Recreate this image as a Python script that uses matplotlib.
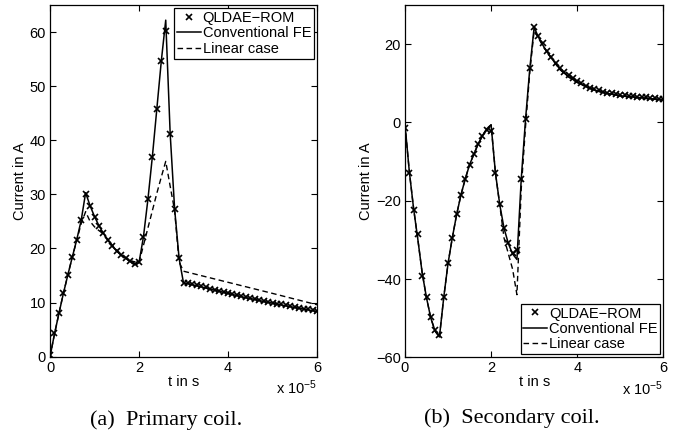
import numpy as np
import matplotlib
matplotlib.use("Agg")
import matplotlib.pyplot as plt

plt.rcParams['font.family'] = ['Liberation Sans', 'DejaVu Sans']
plt.rcParams['mathtext.fontset'] = 'custom'
plt.rcParams['mathtext.rm'] = 'Liberation Sans'
plt.rcParams['mathtext.it'] = 'Liberation Sans:italic'

# time in units of 1e-5 s
t = [0.0, 0.1, 0.2, 0.3, 0.4, 0.5, 0.6, 0.7, 0.8, 0.9,
     1.0, 1.1, 1.2, 1.3, 1.4, 1.5, 1.6, 1.7, 1.8, 1.9,
     2.0, 2.1, 2.2, 2.3, 2.4, 2.5, 2.6, 2.7, 2.8, 2.9,
     3.0, 3.1, 3.2, 3.3, 3.4, 3.5, 3.6, 3.7, 3.8, 3.9,
     4.0, 4.1, 4.2, 4.3, 4.4, 4.5, 4.6, 4.7, 4.8, 4.9,
     5.0, 5.1, 5.2, 5.3, 5.4, 5.5, 5.6, 5.7, 5.8, 5.9, 6.0]

# (a) primary coil
rom_p = [0.3, 4.3, 8.0, 11.7, 15.1, 18.4, 21.5, 25.3, 30.1, 27.9,
         25.9, 24.2, 22.8, 21.5, 20.5, 19.5, 18.8, 18.2, 17.6, 17.1,
         17.5, 22.2, 29.1, 37.0, 45.8, 54.6, 60.2, 41.2, 27.3, 18.2,
         13.7, 13.6, 13.4, 13.2, 13.0, 12.8, 12.6, 12.4, 12.2, 12.0,
         11.8, 11.6, 11.4, 11.2, 11.0, 10.85, 10.7, 10.5, 10.3, 10.15,
         10.0, 9.8, 9.65, 9.5, 9.35, 9.2, 9.05, 8.9, 8.75, 8.6, 8.45]
fe_p = [0.0, 4.2, 8.0, 11.7, 15.1, 18.4, 21.6, 25.2, 30.3, 27.9,
        25.9, 24.2, 22.8, 21.5, 20.5, 19.5, 18.8, 18.2, 17.6, 17.0,
        17.4, 22.2, 29.1, 37.0, 45.8, 54.6, 62.2, 41.2, 27.3, 18.2,
        13.6, 13.5, 13.3, 13.1, 12.9, 12.7, 12.5, 12.3, 12.1, 11.9,
        11.7, 11.5, 11.3, 11.1, 10.9, 10.75, 10.6, 10.4, 10.2, 10.05,
        9.9, 9.7, 9.55, 9.4, 9.25, 9.1, 8.95, 8.8, 8.65, 8.5, 8.35]
t_lin_p = [0.0, 0.1, 0.2, 0.3, 0.4, 0.5, 0.6, 0.7, 0.8, 0.9, 1.0, 1.1, 1.2,
           1.4, 1.6, 1.8, 2.0, 2.1, 2.2, 2.3, 2.4, 2.5, 2.6, 2.7, 2.8, 2.9,
           3.0, 4.0, 5.0, 6.0]
lin_p = [0.0, 4.2, 8.0, 11.7, 15.1, 18.4, 21.5, 24.6, 26.8, 25.0, 24.0, 23.3, 22.7,
         20.6, 18.9, 17.7, 17.4, 20.6, 23.8, 27.0, 30.2, 33.2, 36.1, 31.5, 27.0, 17.5,
         15.8, 13.75, 11.7, 9.6]

# (b) secondary coil
rom_s = [-1.5, -12.8, -22.4, -28.5, -39.1, -44.6, -49.8, -53.0, -54.4, -44.7,
         -36.0, -29.4, -23.5, -18.5, -14.4, -10.8, -8.1, -5.5, -3.4, -1.9,
         -2.2, -12.8, -20.9, -27.0, -30.9, -33.4, -32.6, -14.5, 0.8, 13.9,
         24.3, 22.2, 20.2, 18.3, 16.8, 15.2, 13.8, 12.9, 12.0, 11.3,
         10.6, 10.0, 9.4, 8.9, 8.5, 8.2, 7.9, 7.6, 7.4, 7.2,
         7.05, 6.9, 6.8, 6.7, 6.6, 6.5, 6.4, 6.3, 6.2, 6.1, 6.0]
fe_s = [-0.5, -12.5, -22.0, -30.0, -38.5, -44.8, -50.0, -53.3, -54.8, -44.7,
        -36.0, -29.4, -23.5, -18.5, -14.4, -10.8, -8.1, -5.5, -3.4, -1.6,
        -0.6, -12.8, -20.9, -27.0, -30.9, -33.6, -35.0, -14.5, 0.8, 13.9,
        24.3, 21.8, 19.8, 18.0, 16.5, 15.0, 13.6, 12.6, 11.7, 11.0,
        10.3, 9.7, 9.2, 8.7, 8.3, 8.0, 7.7, 7.4, 7.2, 7.0,
        6.85, 6.7, 6.6, 6.5, 6.4, 6.3, 6.2, 6.1, 6.0, 5.9, 5.8]
t_lin_s = [0.0, 0.1, 0.2, 0.3, 0.4, 0.5, 0.6, 0.7, 0.8, 0.9, 1.0, 1.1, 1.2,
           1.3, 1.4, 1.5, 1.6, 1.7, 1.8, 1.9, 2.0, 2.1, 2.2, 2.3, 2.4, 2.5,
           2.6, 2.7, 2.8, 2.9, 3.0, 3.2, 3.4, 3.6, 3.8, 4.0, 4.5, 5.0, 5.5, 6.0]
lin_s = [-0.5, -12.5, -22.0, -30.0, -38.5, -44.8, -50.0, -53.3, -54.8, -44.7,
         -36.0, -29.4, -23.5, -18.5, -14.4, -10.8, -8.1, -5.5, -3.4, -1.6,
         -0.6, -12.8, -21.0, -29.5, -33.5, -37.5, -44.0, -17.0, -1.0, 13.0,
         23.5, 19.6, 16.4, 13.5, 11.6, 10.2, 7.9, 6.8, 6.2, 5.7]

x_ticks = [0, 2, 4, 6]
y_ticks_p = [0, 10, 20, 30, 40, 50, 60]
y_ticks_s = [-60, -40, -20, 0, 20]

fig = plt.figure(figsize=(6.91, 4.38), dpi=100)
ax1 = fig.add_axes([0.0724, 0.1856, 0.3864, 0.803])
ax2 = fig.add_axes([0.5861, 0.1842, 0.3738, 0.8043])


def draw(ax, rom, fe, tl, lin, ylim, yticks, loc):
    ax.plot(t, rom, 'x', color='black', markersize=4.5, mew=1.2, label='QLDAE\u2212ROM', zorder=3)
    ax.plot(t, fe, '-', color='black', lw=1.1, label='Conventional FE', zorder=2)
    ax.plot(tl, lin, '--', color='black', lw=1.0, dashes=(4, 2.5), label='Linear case', zorder=1)
    ax.set_xlim(0, 6)
    ax.set_ylim(*ylim)
    ax.set_xticks(x_ticks)
    ax.set_yticks(yticks)
    ax.tick_params(direction='in', top=True, right=True, length=4, width=0.8,
                   labelsize=10.5, pad=3)
    for s in ax.spines.values():
        s.set_linewidth(0.9)
    ax.set_xlabel('t in s', fontsize=10.5, labelpad=0)
    ax.set_ylabel('Current in A', fontsize=10.5, labelpad=2)
    ax.text(1.0, -0.088, 'x 10$^{-5}$', transform=ax.transAxes, ha='right', va='center', fontsize=10.5)
    leg = ax.legend(loc=loc, fontsize=10.5, frameon=True, fancybox=False, framealpha=1,
                    edgecolor='black', handlelength=1.6, handletextpad=0.15,
                    borderpad=0.2, labelspacing=0.1, borderaxespad=0.2)
    leg.get_frame().set_linewidth(0.9)


draw(ax1, rom_p, fe_p, t_lin_p, lin_p, (0, 65), y_ticks_p, 'upper right')
draw(ax2, rom_s, fe_s, t_lin_s, lin_s, (-60, 30), y_ticks_s, 'lower right')

fig.text(0.240, 0.040, '(a)  Primary coil.', family='Liberation Serif', fontsize=16, ha='center', va='center')
fig.text(0.741, 0.046, '(b)  Secondary coil.', family='Liberation Serif', fontsize=16, ha='center', va='center')

fig.savefig('out.png', dpi=100)
